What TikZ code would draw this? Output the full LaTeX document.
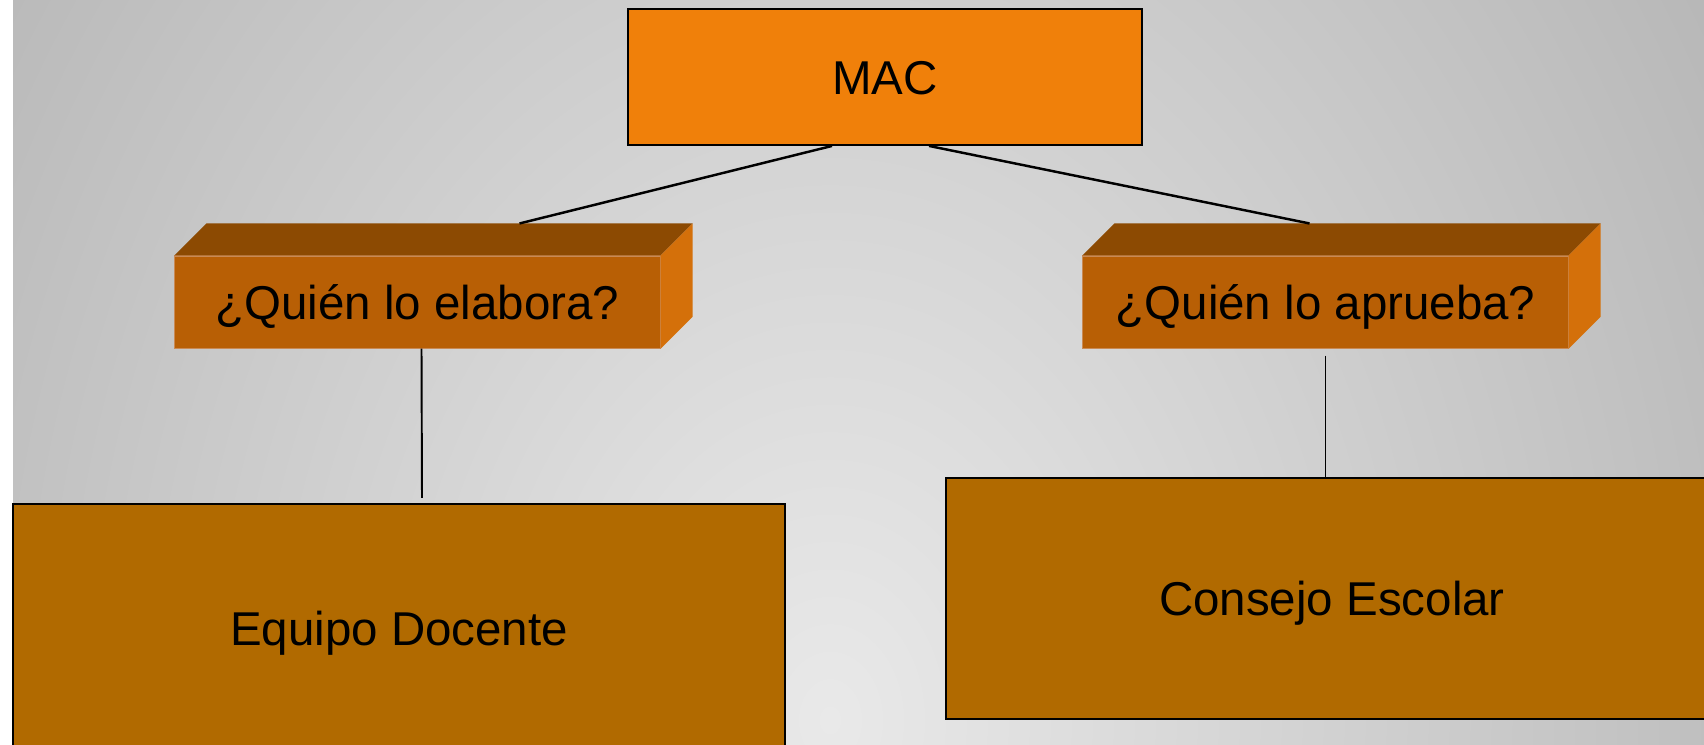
\documentclass[tikz,border=0pt]{standalone}
\usepackage{fontspec}
\setmainfont{Liberation Sans}
\usetikzlibrary{positioning,calc}
\definecolor{macorange}{HTML}{F0800A}
\definecolor{qfront}{HTML}{B85F05}
\definecolor{qtop}{HTML}{8C4A02}
\definecolor{qside}{HTML}{D4700A}
\definecolor{qedge}{HTML}{C98A55}
\definecolor{ansbrown}{HTML}{B16A00}
\definecolor{bglight}{HTML}{E9E9E9}
\definecolor{bgdark}{HTML}{ABABAB}
\tikzset{>=latex,
  every node/.style={font=\fontsize{13.5}{16}\selectfont, text=black,
    text height=9.7pt, text depth=0pt},
  rootbox/.style={draw=black, line width=0.5pt, fill=macorange,
    minimum width=5.14cm, minimum height=1.36cm},
  questbox/.style={draw=qedge, line width=0.3pt, fill=qfront,
    minimum width=4.85cm, minimum height=0.92cm},
  answerbox/.style={draw=black, line width=0.6pt, fill=ansbrown,
    minimum width=7.72cm},
  link/.style={line width=0.7pt}}

\begin{document}
\begin{tikzpicture}[x=0.01cm,y=-0.01cm]
  \useasboundingbox (0,0) rectangle (1704,744);
  \fill[white] (0,0) rectangle (1704,744);
  \begin{scope}
    \clip (13,0) rectangle (1704,744);
    \fill[inner color=bglight, outer color=bgdark] (830,720) ellipse (13cm and 17cm);
  \end{scope}

  % boxes
  \node[rootbox] (mac) at (885,77) {MAC};
  \node[questbox] (elabora) at (417.5,302) {¿Quién lo elabora?};
  \node[questbox] (aprueba) at (1325.5,302) {¿Quién lo aprueba?};
  \node[answerbox, minimum height=2.48cm] (equipo) at (399,628) {Equipo Docente};
  \node[answerbox, minimum height=2.41cm] (consejo) at (1332,598.5) {Consejo Escolar};

  % 3d faces
  \foreach \q in {elabora,aprueba} {
    \fill[qtop] (\q.north west) -- ++(32,-32) -- ($(\q.north east)+(32,-32)$)
      -- (\q.north east) -- cycle;
    \fill[qside] (\q.north east) -- ++(32,-32) -- ($(\q.south east)+(32,-32)$)
      -- (\q.south east) -- cycle;
  }

  % links
  \draw[link] ($(mac.south)+(-53,0)$) -- ($(elabora.north)+(102,-32)$);
  \draw[link] ($(mac.south)+(44,0)$) -- ($(aprueba.north)+(-16,-32)$);
  \draw[link, line width=0.55pt, shorten >=0.05cm] ($(elabora.south)+(4,0)$) -- ($(equipo.north)+(23,0)$);
  \draw[link, line width=0.55pt, shorten <=0.07cm] (aprueba.south) -- (aprueba.south |- consejo.north);
\end{tikzpicture}
\end{document}
